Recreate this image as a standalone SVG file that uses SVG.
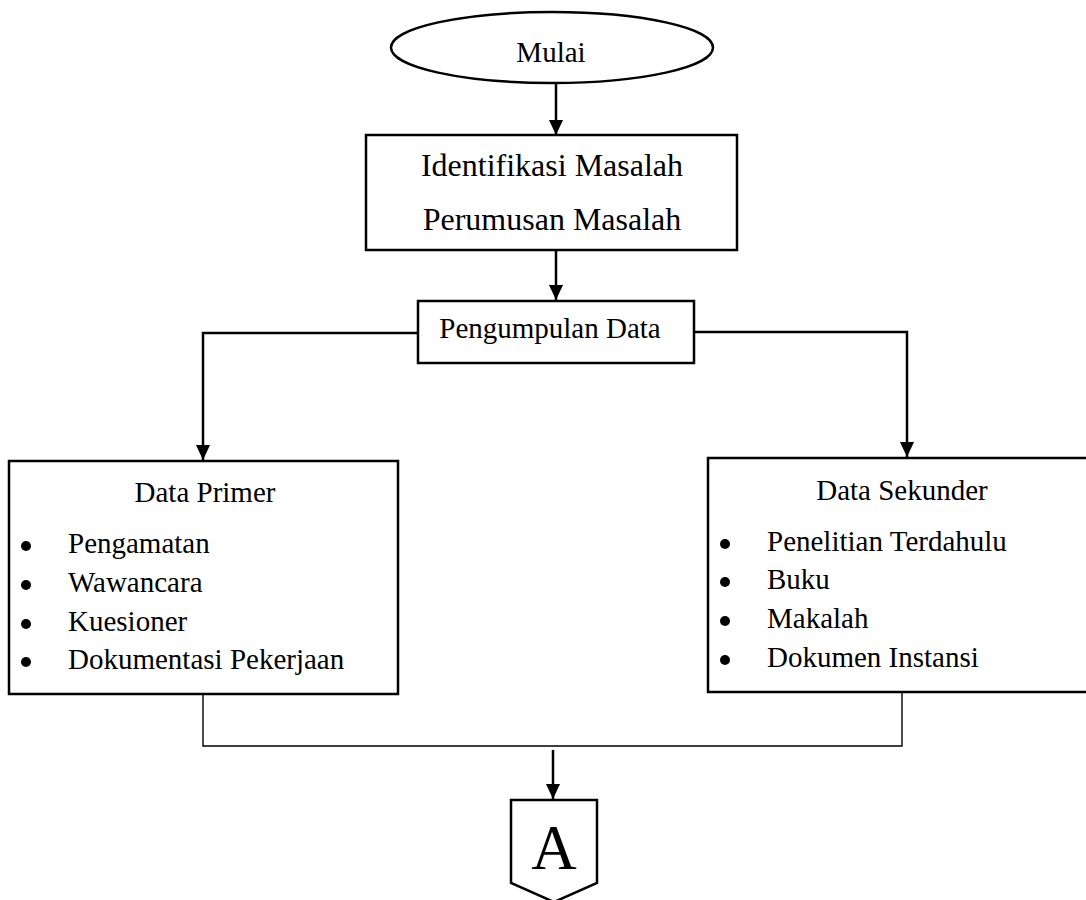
<svg xmlns="http://www.w3.org/2000/svg" width="1086" height="900" viewBox="0 0 1086 900">
<defs>
<marker id="arr" viewBox="0 0 15 17" refX="15" refY="8.5" markerWidth="15" markerHeight="17" markerUnits="userSpaceOnUse" orient="auto">
<path d="M0,1.5 L15,8.5 L0,15.5 Z" fill="#000"/>
</marker>
<style>
.shape{fill:#fff;stroke:#000;stroke-width:2.5}
.t{font-family:"Liberation Serif","Times New Roman",serif;font-size:29px;fill:#000}
.c{text-anchor:middle}
.big{font-size:32px}
.conn{fill:none;stroke:#000;stroke-width:2.5}
.thin{fill:none;stroke:#000;stroke-width:1.4}
</style>
</defs>
<rect width="1086" height="900" fill="#fff"/>
<g id="connectors">
<path class="conn" d="M556,83 L556,135" marker-end="url(#arr)"/>
<path class="conn" d="M556,250 L556,300" marker-end="url(#arr)"/>
<path class="conn" d="M418,333 L203,333 L203,460" marker-end="url(#arr)"/>
<path class="conn" d="M694,332 L907,332 L907,457" marker-end="url(#arr)"/>
<path class="thin" d="M203,694 L203,746 L902,746 L902,692"/>
<path class="conn" d="M553,750 L553,799" marker-end="url(#arr)"/>
</g>
<g id="mulai">
<ellipse class="shape" cx="552" cy="47.5" rx="161" ry="35.5"/>
<text class="t c" x="551" y="62">Mulai</text>
</g>
<g id="masalah">
<rect class="shape" x="366" y="135" width="371" height="115"/>
<text class="t c big" x="552" y="176">Identifikasi Masalah</text>
<text class="t c big" x="552" y="230">Perumusan Masalah</text>
</g>
<g id="pengumpulan">
<rect class="shape" x="418" y="301" width="276" height="62"/>
<text class="t c" x="550" y="338">Pengumpulan Data</text>
</g>
<g id="primer">
<rect class="shape" x="9" y="461" width="389" height="233"/>
<text class="t c" x="205" y="502">Data Primer</text>
<circle cx="26" cy="546" r="5"/>
<circle cx="26" cy="585" r="5"/>
<circle cx="26" cy="624" r="5"/>
<circle cx="26" cy="662" r="5"/>
<text class="t" x="68" y="553">Pengamatan</text>
<text class="t" x="68" y="592">Wawancara</text>
<text class="t" x="68" y="631">Kuesioner</text>
<text class="t" x="68" y="669">Dokumentasi Pekerjaan</text>
</g>
<g id="sekunder">
<rect class="shape" x="708" y="458" width="390" height="234"/>
<text class="t c" x="902" y="500">Data Sekunder</text>
<circle cx="725" cy="544" r="5"/>
<circle cx="725" cy="582" r="5"/>
<circle cx="725" cy="621" r="5"/>
<circle cx="725" cy="660" r="5"/>
<text class="t" x="767" y="551">Penelitian Terdahulu</text>
<text class="t" x="767" y="589">Buku</text>
<text class="t" x="767" y="628">Makalah</text>
<text class="t" x="767" y="667">Dokumen Instansi</text>
</g>
<g id="connector-a">
<path class="shape" d="M511,800 L597,800 L597,883 L554,902 L511,883 Z"/>
<text class="t c" x="554" y="869" style="font-size:63px">A</text>
</g>
</svg>
